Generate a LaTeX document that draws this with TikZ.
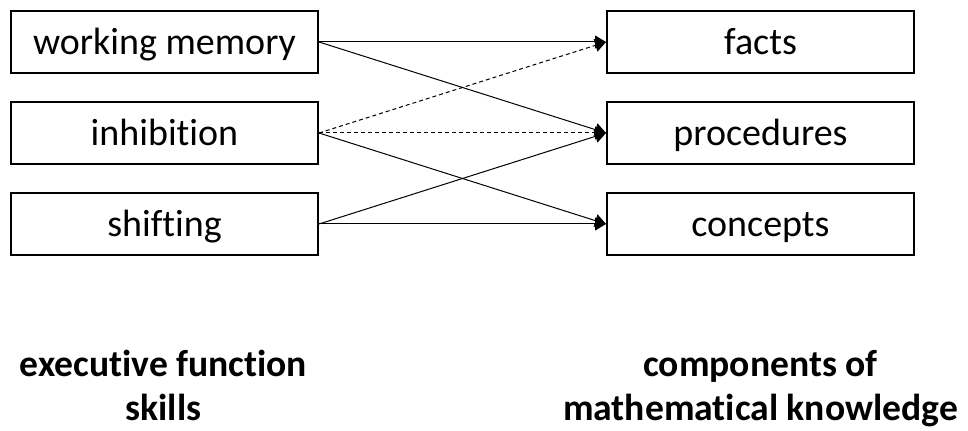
\documentclass[tikz,border=0pt]{standalone}
\usepackage{fontspec}
\setmainfont{Carlito}[Ligatures={NoCommon,NoRequired,NoContextual}]
\usetikzlibrary{arrows.meta}
\begin{document}
\begin{tikzpicture}[x=0.5pt,y=-0.5pt,
  box/.style={draw, line width=1pt, minimum width=153.5pt, minimum height=31pt, inner sep=0pt,
    text height=17pt, text depth=4pt,
    font=\fontsize{19}{22.5}\selectfont},
  lbl/.style={anchor=base, align=center, font=\fontsize{18.8}{22}\selectfont\bfseries},
  link/.style={line width=0.5pt, -{Triangle[length=5.5pt,width=6.5pt]}},
  dlink/.style={link, dash pattern=on 2pt off 1.5pt}]
\useasboundingbox (0,0) rectangle (968,431);
\node[box] (wm) at (164.5,42) {working memory};
\node[box] (inh) at (164.5,133) {inhibition};
\node[box] (sh) at (164.5,224) {shifting};
\node[box] (fa) at (760.5,42) {facts};
\node[box] (pr) at (760.5,133) {procedures};
\node[box] (co) at (760.5,224) {concepts};
\draw[link] (wm.east) -- (fa.west);
\draw[link] (wm.east) -- (pr.west);
\draw[dlink] (inh.east) -- (fa.west);
\draw[dlink] (inh.east) -- (pr.west);
\draw[link] (inh.east) -- (co.west);
\draw[link] (sh.east) -- (pr.west);
\draw[link] (sh.east) -- (co.west);
\node[lbl] (efs) at (163.5,421) {executive function\\skills};
\node[lbl] (cmk) at (760.5,421) {components of\\mathematical knowledge};
\end{tikzpicture}
\end{document}
